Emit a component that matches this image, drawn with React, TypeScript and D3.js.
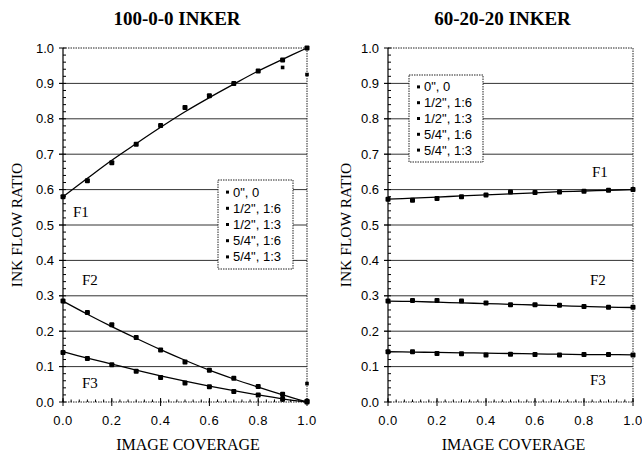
import React from 'react';
import * as d3 from 'd3';

const coverage = [0, 0.1, 0.2, 0.3, 0.4, 0.5, 0.6, 0.7, 0.8, 0.9, 1.0];
const xTicks = [0, 0.2, 0.4, 0.6, 0.8, 1.0];
const yTicks = [0, 0.1, 0.2, 0.3, 0.4, 0.5, 0.6, 0.7, 0.8, 0.9, 1.0];
const legendLabels = ['0", 0', '1/2", 1:6', '1/2", 1:3', '5/4", 1:6', '5/4", 1:3'];

// 100-0-0 inker
const leftF1Points = [0.58, 0.625, 0.676, 0.728, 0.781, 0.832, 0.865, 0.9, 0.935, 0.966, 1.0];
const leftF1Fit = [0.58, 0.632, 0.683, 0.73, 0.776, 0.82, 0.86, 0.898, 0.935, 0.968, 1.0];
const leftF2Points = [0.285, 0.253, 0.218, 0.182, 0.147, 0.113, 0.09, 0.067, 0.044, 0.022, 0.002];
const leftF2Fit = [0.285, 0.248, 0.213, 0.18, 0.148, 0.118, 0.09, 0.065, 0.042, 0.02, 0.0];
const leftF3Points = [0.14, 0.123, 0.105, 0.087, 0.069, 0.054, 0.043, 0.03, 0.02, 0.008, 0.0];
const leftF3Fit = [0.142, 0.124, 0.107, 0.09, 0.074, 0.059, 0.045, 0.032, 0.02, 0.009, 0.0];
const leftOutlierX = [0.9, 1.0, 1.0, 0.9];
const leftOutlierY = [0.945, 0.925, 0.052, 0.015];

// 60-20-20 inker
const rightF1Points = [0.573, 0.57, 0.575, 0.58, 0.585, 0.593, 0.592, 0.593, 0.595, 0.598, 0.6];
const rightF1Fit = [0.573, 0.576, 0.579, 0.582, 0.585, 0.588, 0.591, 0.594, 0.596, 0.598, 0.6];
const rightF2Points = [0.285, 0.287, 0.287, 0.285, 0.28, 0.275, 0.275, 0.273, 0.27, 0.268, 0.268];
const rightF2Fit = [0.285, 0.284, 0.282, 0.28, 0.278, 0.276, 0.274, 0.272, 0.27, 0.268, 0.267];
const rightF3Points = [0.142, 0.142, 0.137, 0.136, 0.133, 0.135, 0.134, 0.133, 0.134, 0.134, 0.133];
const rightF3Fit = [0.142, 0.141, 0.14, 0.139, 0.138, 0.137, 0.136, 0.135, 0.134, 0.134, 0.133];

type Curve = { pts: number[]; fit: number[]; label: string; lx: number; ly: number };

type PanelProps = {
  title: string;
  left: number;
  right: number;
  curves: Curve[];
  outX: number[];
  outY: number[];
  legendX: number;
  legendY: number;
  legendW: number;
  legendH: number;
  yLabelX: number;
};

const TOP = 48;
const BOTTOM = 402;

function Panel(p: PanelProps) {
  const x = d3.scaleLinear().domain([0, 1]).range([p.left, p.right]);
  const y = d3.scaleLinear().domain([0, 1]).range([BOTTOM, TOP]);
  const line = d3
    .line<number>()
    .x((_, i) => x(coverage[i]))
    .y((d) => y(d))
    .curve(d3.curveCatmullRom);
  const yMinor = d3.range(0, 1.0001, 0.02);
  const xMinor = d3.range(0, 1.0001, 0.2 / 6);
  const mid = (p.left + p.right) / 2;
  const rowH = (p.legendH - 8) / legendLabels.length;
  return (
    <g>
      <text x={mid - 8} y={25} textAnchor="middle" fontFamily="'Liberation Serif', serif" fontWeight="bold" fontSize={19}>
        {p.title}
      </text>
      {yTicks.slice(1, -1).map((t) => (
        <line key={'g' + t} x1={x(0) - 4} x2={x(1)} y1={y(t)} y2={y(t)} stroke="#333" strokeWidth={1} />
      ))}
      <line x1={x(0)} x2={x(1)} y1={y(1)} y2={y(1)} stroke="#222" strokeWidth={1} strokeDasharray="1.5,1" />
      <line x1={x(1)} x2={x(1)} y1={y(1)} y2={y(0)} stroke="#222" strokeWidth={1} strokeDasharray="1.5,1" />
      <line x1={x(0)} x2={x(1)} y1={y(0)} y2={y(0)} stroke="#222" strokeWidth={1} strokeDasharray="1.5,1" />
      <line x1={x(0)} x2={x(0)} y1={y(1)} y2={y(0)} stroke="#000" strokeWidth={1.2} />
      {yTicks.map((t) => (
        <g key={'yt' + t}>
          <line x1={x(0) - 4} x2={x(0)} y1={y(t)} y2={y(t)} stroke="#000" />
          <text x={x(0) - 9} y={y(t)} dy="0.35em" textAnchor="end" fontFamily="'Liberation Sans', Arial" fontSize={13}>
            {d3.format('.1f')(t)}
          </text>
        </g>
      ))}
      {yMinor.map((t, i) => (
        <line key={'ym' + i} x1={x(0)} x2={x(0) + 3} y1={y(t)} y2={y(t)} stroke="#000" />
      ))}
      {xTicks.map((t) => (
        <g key={'xt' + t}>
          <line x1={x(t)} x2={x(t)} y1={y(0) - 4} y2={y(0) + 4} stroke="#000" />
          <text x={x(t)} y={425} textAnchor="middle" fontFamily="'Liberation Sans', Arial" fontSize={13} letterSpacing={0.5}>
            {d3.format('.1f')(t)}
          </text>
        </g>
      ))}
      {xMinor.map((t, i) => (
        <line key={'xm' + i} x1={x(t)} x2={x(t)} y1={y(0) - 2.5} y2={y(0)} stroke="#000" />
      ))}
      {p.curves.map((c, ci) => (
        <g key={'c' + ci}>
          <path d={line(c.fit) || ''} fill="none" stroke="#000" strokeWidth={1.3} />
          {c.pts.map((v, i) => (
            <rect key={i} x={x(coverage[i]) - 2.5} y={y(v) - 2.5} width={5} height={5} rx={1} fill="#000" />
          ))}
          <text x={c.lx} y={c.ly} fontFamily="'Liberation Serif', serif" fontSize={15}>
            {c.label}
          </text>
        </g>
      ))}
      {p.outX.map((v, i) => (
        <rect key={'o' + i} x={x(v) - 1.8} y={y(p.outY[i]) - 1.8} width={3.6} height={3.6} fill="#000" />
      ))}
      <rect x={p.legendX} y={p.legendY} width={p.legendW} height={p.legendH} fill="#fff" stroke="#222" strokeDasharray="1.5,1" />
      {legendLabels.map((l, i) => (
        <g key={'l' + i}>
          <rect x={p.legendX + 8} y={p.legendY + 4 + rowH * (i + 0.5) - 1.5} width={3} height={3} fill="#000" />
          <text
            x={p.legendX + 15}
            y={p.legendY + 4 + rowH * (i + 0.5)}
            dy="0.35em"
            fontFamily="'Liberation Sans', Arial"
            fontSize={13}
          >
            {l}
          </text>
        </g>
      ))}
      <text
        transform={`translate(${p.yLabelX},${(TOP + BOTTOM) / 2}) rotate(-90)`}
        textAnchor="middle"
        dy="0.35em"
        fontFamily="'Liberation Serif', serif"
        fontSize={15.5}
      >
        INK FLOW RATIO
      </text>
      <text x={mid + 3} y={450} textAnchor="middle" fontFamily="'Liberation Serif', serif" fontSize={16}>
        IMAGE COVERAGE
      </text>
    </g>
  );
}

export default function App() {
  return (
    <svg width={642} height={452} style={{ position: 'absolute', left: 0, top: 0, background: '#fff' }}>
      <rect width={642} height={452} fill="#fff" />
      <Panel
        title="100-0-0 INKER"
        left={63}
        right={307}
        curves={[
          { pts: leftF1Points, fit: leftF1Fit, label: 'F1', lx: 73, ly: 217 },
          { pts: leftF2Points, fit: leftF2Fit, label: 'F2', lx: 82, ly: 285 },
          { pts: leftF3Points, fit: leftF3Fit, label: 'F3', lx: 82, ly: 388 },
        ]}
        outX={leftOutlierX}
        outY={leftOutlierY}
        legendX={218}
        legendY={180}
        legendW={75}
        legendH={89}
        yLabelX={17}
      />
      <Panel
        title="60-20-20 INKER"
        left={388}
        right={633}
        curves={[
          { pts: rightF1Points, fit: rightF1Fit, label: 'F1', lx: 592, ly: 177 },
          { pts: rightF2Points, fit: rightF2Fit, label: 'F2', lx: 590, ly: 285 },
          { pts: rightF3Points, fit: rightF3Fit, label: 'F3', lx: 590, ly: 385 },
        ]}
        outX={[]}
        outY={[]}
        legendX={409}
        legendY={75}
        legendW={74}
        legendH={87}
        yLabelX={346}
      />
    </svg>
  );
}
